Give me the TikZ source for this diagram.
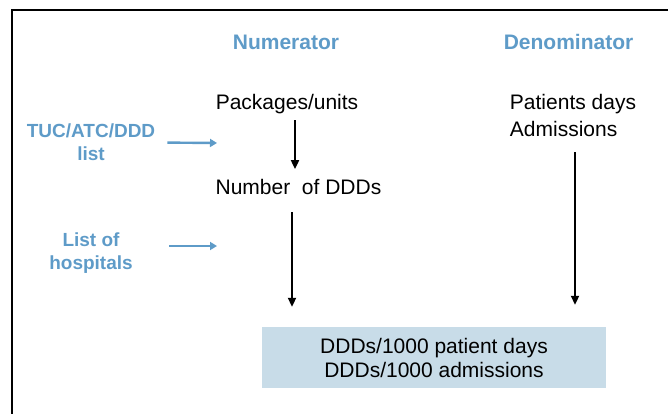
\documentclass[tikz,border=0pt]{standalone}
\usepackage{fontspec}
\setmainfont{Liberation Sans}
\usetikzlibrary{arrows.meta}
\definecolor{hdblue}{RGB}{94,155,200}
\definecolor{boxfill}{RGB}{200,220,232}
\tikzset{
  txt/.style={inner sep=0pt, font=\fontsize{21}{24}\selectfont},
  head/.style={inner sep=0pt, font=\fontsize{21}{24}\selectfont\bfseries, text=hdblue},
  side/.style={inner sep=0pt, align=center, font=\fontsize{19}{23}\selectfont\bfseries, text=hdblue},
  arr/.style={line width=2pt, -{Triangle[length=9pt,width=8pt]}},
  barr/.style={line width=2.4pt, draw=hdblue, -{Triangle[length=7pt,width=8pt]}},
  resbox/.style={inner sep=0pt, fill=boxfill, minimum width=344pt, minimum height=61pt, align=center, font=\fontsize{21}{24}\selectfont}
}
\begin{document}
\begin{tikzpicture}[x=1pt,y=-1pt]
\useasboundingbox (0,0) rectangle (668,414);
\draw[line width=2.4pt] (12,414) -- (12,10) -- (668,10);

\node[head, anchor=base] (num) at (286,49.5) {Numerator};
\node[head, anchor=base] (den) at (568.5,49.5) {Denominator};

\node[txt, anchor=base] (pkg) at (287,109.5) {Packages/units};
\node[txt, anchor=base] (ddd) at (298.5,194.5) {Number\ \ of DDDs};
\node[txt, align=left] (pat) at (573,115.5) {Patients days\\[3pt]Admissions};

\node[resbox] (res) at (434,357.5) {DDDs/1000 patient days\\DDDs/1000 admissions};

\node[side] (tuc) at (91,142.5) {TUC/ATC/DDD\\list};
\node[side] (hosp) at (91,253.5) {List of\\hospitals};

\coordinate (t1) at (217,143);
\coordinate (t2) at (217,246);
\coordinate (s2) at ([xshift=-6.5pt]ddd.south);
\coordinate (s3) at ([xshift=2pt]pat.south);
\coordinate (h1) at ([yshift=7.5pt]hosp.east);

\draw[arr, shorten <=6pt, shorten >=10pt] ([xshift=8pt]pkg.south) -- ([xshift=-3.5pt]ddd.north);
\draw[arr, shorten <=17.5pt, shorten >=20pt] (s2) -- (res.north -| s2);
\draw[arr, shorten <=15.5pt, shorten >=22pt] (s3) -- (res.north -| s3);

\draw[barr, shorten <=12pt] (tuc.east) -- (t1);
\draw[barr] (h1 -| 169,0) -- (t2);
\end{tikzpicture}
\end{document}
